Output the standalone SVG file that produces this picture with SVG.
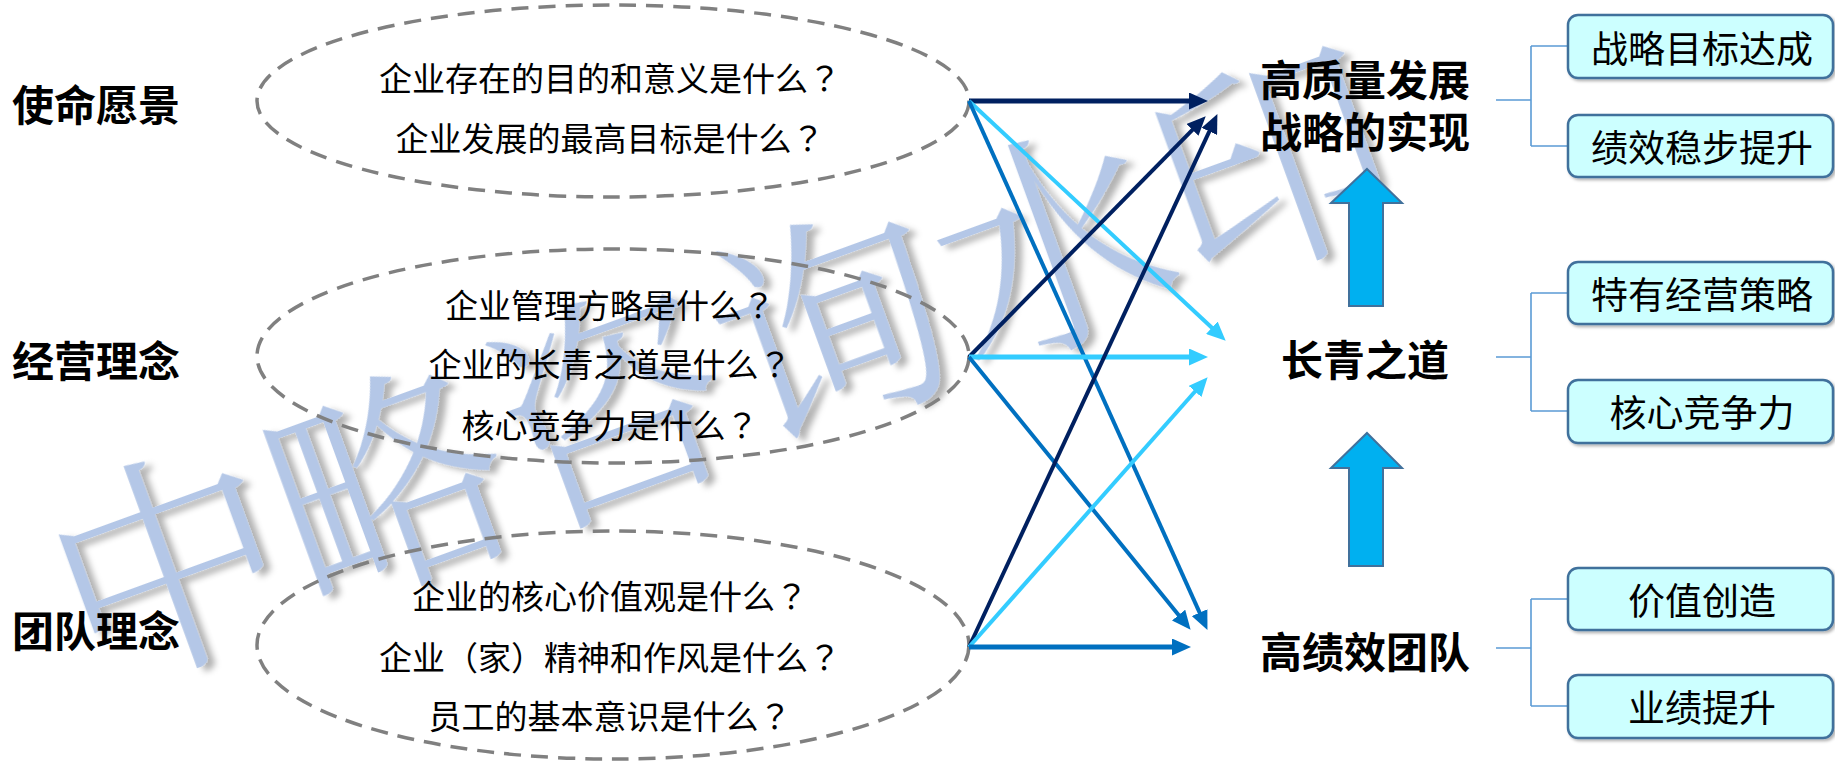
<svg xmlns="http://www.w3.org/2000/svg" width="1835" height="761" viewBox="0 0 1835 761">
<style>
text{text-spacing-trim:space-all}
.ttl{font-family:"Noto Sans CJK SC","Liberation Sans",sans-serif;font-weight:700;font-size:42px;fill:#000;dominant-baseline:central}
.q{font-family:"Noto Sans CJK SC","Liberation Sans",sans-serif;font-size:33px;fill:#000;text-anchor:middle;dominant-baseline:central}
.qm{font-family:"Noto Sans CJK TC","Noto Sans CJK SC",sans-serif}
.bt{font-family:"Noto Sans CJK SC","Liberation Sans",sans-serif;font-size:37px;fill:#000;text-anchor:middle;dominant-baseline:central}
.ell{fill:none;stroke:#808080;stroke-width:3.5;stroke-dasharray:17 10}
.box{fill:#CCFFFF;stroke:#41719C;stroke-width:2.5}
.br{fill:none;stroke:#5B9BD5;stroke-width:1.6}
.up{fill:#00B0F0;stroke:#41719C;stroke-width:2}
.navy{stroke:#002060;fill:none}
.mid{stroke:#0070C0;fill:none}
.cyan{stroke:#33CCFF;fill:none}
.wm{font-family:"Noto Serif CJK SC","Noto Sans CJK SC",serif;font-weight:300;font-size:235px;fill:#B4C7E7;text-anchor:middle;dominant-baseline:central}
</style>
<defs>
<filter id="wsh" x="-10%" y="-10%" width="130%" height="130%">
<feDropShadow dx="6" dy="6" stdDeviation="3" flood-color="#000" flood-opacity="0.3"/>
</filter>
<filter id="bsh" x="-5%" y="-10%" width="115%" height="130%">
<feDropShadow dx="2" dy="2" stdDeviation="1.5" flood-color="#000" flood-opacity="0.3"/>
</filter>
<marker id="mN" markerUnits="userSpaceOnUse" markerWidth="19" markerHeight="17" refX="6" refY="8.5" orient="auto"><path d="M0,0 L19,8.5 L0,17 z" fill="#002060"/></marker>
<marker id="mM" markerUnits="userSpaceOnUse" markerWidth="19" markerHeight="17" refX="6" refY="8.5" orient="auto"><path d="M0,0 L19,8.5 L0,17 z" fill="#0070C0"/></marker>
<marker id="mC" markerUnits="userSpaceOnUse" markerWidth="19" markerHeight="17" refX="6" refY="8.5" orient="auto"><path d="M0,0 L19,8.5 L0,17 z" fill="#33CCFF"/></marker>
</defs>
<rect width="1835" height="761" fill="#fff"/>
<text class="wm" x="715" y="352" transform="rotate(-20 715 352)" filter="url(#wsh)">中略咨询水印</text>

<g id="vision">
<text class="ttl" x="12" y="102">使命愿景</text>
<ellipse class="ell" cx="613" cy="101" rx="356" ry="96"/>
<text class="q" x="610" y="77">企业存在的目的和意义是什么<tspan class="qm">？</tspan></text>
<text class="q" x="610" y="137">企业发展的最高目标是什么<tspan class="qm">？</tspan></text>
</g>
<g id="philosophy">
<text class="ttl" x="12" y="358">经营理念</text>
<ellipse class="ell" cx="613" cy="356" rx="356" ry="107"/>
<text class="q" x="610" y="304">企业管理方略是什么<tspan class="qm">？</tspan></text>
<text class="q" x="610" y="363">企业的长青之道是什么<tspan class="qm">？</tspan></text>
<text class="q" x="610" y="424">核心竞争力是什么<tspan class="qm">？</tspan></text>
</g>
<g id="team">
<text class="ttl" x="12" y="628">团队理念</text>
<ellipse class="ell" cx="613" cy="645" rx="356" ry="114"/>
<text class="q" x="610" y="595">企业的核心价值观是什么<tspan class="qm">？</tspan></text>
<text class="q" x="610" y="656">企业（家）精神和作风是什么<tspan class="qm">？</tspan></text>
<text class="q" x="610" y="715">员工的基本意识是什么<tspan class="qm">？</tspan></text>
</g>

<g id="connectors">
<line class="navy" stroke-width="5" x1="969" y1="101" x2="1195" y2="101" marker-end="url(#mN)"/>
<line class="cyan" stroke-width="4" x1="969" y1="101" x2="1216.2" y2="331.8" marker-end="url(#mC)"/>
<line class="mid" stroke-width="4" x1="969" y1="101" x2="1202.1" y2="618.1" marker-end="url(#mM)"/>
<line class="navy" stroke-width="4" x1="969" y1="357" x2="1196.6" y2="125.6" marker-end="url(#mN)"/>
<line class="cyan" stroke-width="5" x1="969" y1="357" x2="1195" y2="357" marker-end="url(#mC)"/>
<line class="mid" stroke-width="4" x1="969" y1="357" x2="1182.4" y2="619.7" marker-end="url(#mM)"/>
<line class="navy" stroke-width="4" x1="969" y1="647" x2="1211.9" y2="125.9" marker-end="url(#mN)"/>
<line class="cyan" stroke-width="4" x1="969" y1="647" x2="1199" y2="387" marker-end="url(#mC)"/>
<line class="mid" stroke-width="5" x1="969" y1="647" x2="1178" y2="647" marker-end="url(#mM)"/>
<path class="br" d="M1496,100 H1531 M1531,46 V146 M1531,46 H1568 M1531,146 H1568"/>
<path class="br" d="M1496,357 H1531 M1531,293 V411 M1531,293 H1568 M1531,411 H1568"/>
<path class="br" d="M1496,648 H1531 M1531,599 V706 M1531,599 H1568 M1531,706 H1568"/>
<path class="up" d="M1367,169 L1402,203 L1383,203 L1383,306 L1349,306 L1349,203 L1331,203 Z"/>
<path class="up" d="M1367,433 L1402,468 L1383,468 L1383,566 L1349,566 L1349,468 L1331,468 Z"/>
</g>

<g id="goal">
<text class="ttl" x="1365" y="77" text-anchor="middle">高质量发展</text>
<text class="ttl" x="1365" y="129" text-anchor="middle">战略的实现</text>
</g>
<g id="evergreen">
<text class="ttl" x="1365" y="357" text-anchor="middle">长青之道</text>
</g>
<g id="hpteam">
<text class="ttl" x="1365" y="649" text-anchor="middle">高绩效团队</text>
</g>

<g id="box1"><rect class="box" filter="url(#bsh)" x="1568" y="15" width="265" height="63" rx="10"/><text class="bt" x="1702" y="47">战略目标达成</text></g>
<g id="box2"><rect class="box" filter="url(#bsh)" x="1568" y="115" width="265" height="62" rx="10"/><text class="bt" x="1702" y="146">绩效稳步提升</text></g>
<g id="box3"><rect class="box" filter="url(#bsh)" x="1568" y="262" width="265" height="62" rx="10"/><text class="bt" x="1702" y="293">特有经营策略</text></g>
<g id="box4"><rect class="box" filter="url(#bsh)" x="1568" y="380" width="265" height="63" rx="10"/><text class="bt" x="1702" y="411">核心竞争力</text></g>
<g id="box5"><rect class="box" filter="url(#bsh)" x="1568" y="568" width="265" height="62" rx="10"/><text class="bt" x="1702" y="599">价值创造</text></g>
<g id="box6"><rect class="box" filter="url(#bsh)" x="1568" y="675" width="265" height="63" rx="10"/><text class="bt" x="1702" y="706">业绩提升</text></g>
</svg>
